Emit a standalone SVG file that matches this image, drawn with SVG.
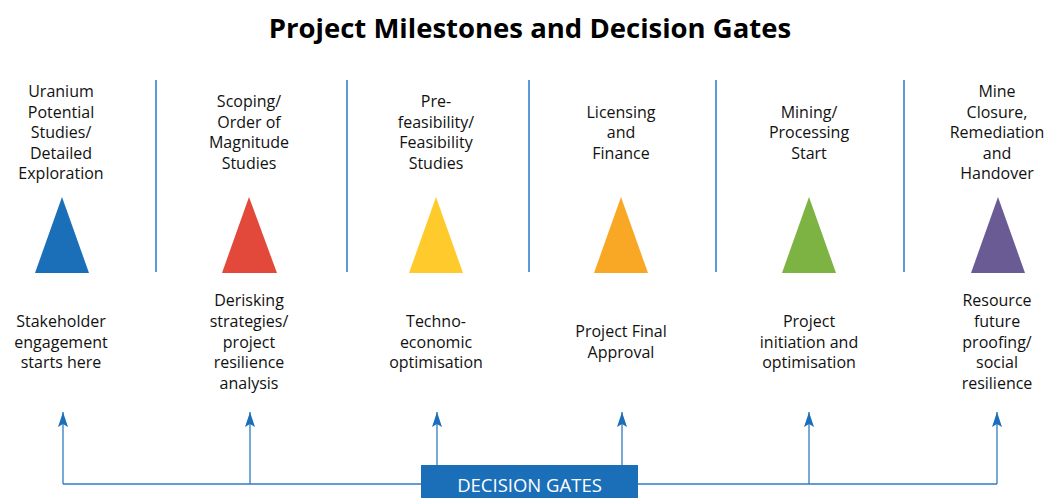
<svg xmlns="http://www.w3.org/2000/svg" width="1048" height="498" viewBox="0 0 1048 498">
<style>
.t{font-family:"Open Sans","Liberation Sans",sans-serif;font-size:16px;fill:#111;text-anchor:middle}
.title{font-family:"Open Sans","Liberation Sans",sans-serif;font-size:27.5px;font-weight:bold;fill:#000;text-anchor:middle}
.sep{stroke:#5b9bd5;stroke-width:2}
.con{stroke:#2f7bc2;stroke-width:1.3;fill:none}
.gate{font-family:"Open Sans","Liberation Sans",sans-serif;font-size:18.5px;fill:#fff;text-anchor:middle}
</style>
<defs>
<marker id="ah" viewBox="0 0 15 10" refX="15" refY="5" markerWidth="15" markerHeight="10" markerUnits="userSpaceOnUse" orient="auto">
<path d="M15 5 L0 0 L3 5 L0 10 Z" fill="#1a6fb8"/>
</marker>
</defs>
<rect width="1048" height="498" fill="#fff"/>
<text class="title" x="530" y="38">Project Milestones and Decision Gates</text>
<g id="separators">
<line class="sep" x1="156" y1="80" x2="156" y2="272"/>
<line class="sep" x1="347" y1="80" x2="347" y2="272"/>
<line class="sep" x1="529" y1="80" x2="529" y2="272"/>
<line class="sep" x1="716" y1="80" x2="716" y2="272"/>
<line class="sep" x1="904" y1="80" x2="904" y2="272"/>
</g>
<g id="m1">
<text class="t" x="61" y="97">Uranium</text>
<text class="t" x="61" y="117.5">Potential</text>
<text class="t" x="61" y="138">Studies/</text>
<text class="t" x="61" y="158.5">Detailed</text>
<text class="t" x="61" y="179">Exploration</text>
<polygon points="62,197 89,273 35,273" fill="#1a6fb8"/>
<text class="t" x="61" y="327">Stakeholder</text>
<text class="t" x="61" y="347.5">engagement</text>
<text class="t" x="61" y="368">starts here</text>
</g>
<g id="m2">
<text class="t" x="249" y="107">Scoping/</text>
<text class="t" x="249" y="127.5">Order of</text>
<text class="t" x="249" y="148">Magnitude</text>
<text class="t" x="249" y="168.5">Studies</text>
<polygon points="249,197 277,273 222,273" fill="#e2493a"/>
<text class="t" x="249" y="306">Derisking</text>
<text class="t" x="249" y="327">strategies/</text>
<text class="t" x="249" y="347.5">project</text>
<text class="t" x="249" y="368">resilience</text>
<text class="t" x="249" y="388.5">analysis</text>
</g>
<g id="m3">
<text class="t" x="436" y="107">Pre-</text>
<text class="t" x="436" y="127.5">feasibility/</text>
<text class="t" x="436" y="148">Feasibility</text>
<text class="t" x="436" y="168.5">Studies</text>
<polygon points="436,197 463,273 409,273" fill="#ffca2c"/>
<text class="t" x="436" y="327">Techno-</text>
<text class="t" x="436" y="347.5">economic</text>
<text class="t" x="436" y="368">optimisation</text>
</g>
<g id="m4">
<text class="t" x="621" y="117.5">Licensing</text>
<text class="t" x="621" y="138">and</text>
<text class="t" x="621" y="158.5">Finance</text>
<polygon points="621,197 648,273 594,273" fill="#f9a825"/>
<text class="t" x="621" y="337">Project Final</text>
<text class="t" x="621" y="358">Approval</text>
</g>
<g id="m5">
<text class="t" x="809" y="117.5">Mining/</text>
<text class="t" x="809" y="138">Processing</text>
<text class="t" x="809" y="158.5">Start</text>
<polygon points="809,197 836,273 782,273" fill="#7cb342"/>
<text class="t" x="809" y="327">Project</text>
<text class="t" x="809" y="347.5">initiation and</text>
<text class="t" x="809" y="368">optimisation</text>
</g>
<g id="m6">
<text class="t" x="997" y="97">Mine</text>
<text class="t" x="997" y="117.5">Closure,</text>
<text class="t" x="997" y="138">Remediation</text>
<text class="t" x="997" y="158.5">and</text>
<text class="t" x="997" y="179">Handover</text>
<polygon points="998,197 1025,273 971,273" fill="#6b5b95"/>
<text class="t" x="997" y="306">Resource</text>
<text class="t" x="997" y="327">future</text>
<text class="t" x="997" y="347.5">proofing/</text>
<text class="t" x="997" y="368">social</text>
<text class="t" x="997" y="388.5">resilience</text>
</g>
<g id="connectors">
<polyline class="con" points="63,484 997,484"/>
<line class="con" x1="63" y1="484" x2="63" y2="412" marker-end="url(#ah)"/>
<line class="con" x1="250" y1="484" x2="250" y2="412" marker-end="url(#ah)"/>
<line class="con" x1="437" y1="465" x2="437" y2="412" marker-end="url(#ah)"/>
<line class="con" x1="622" y1="465" x2="622" y2="412" marker-end="url(#ah)"/>
<line class="con" x1="809" y1="484" x2="809" y2="412" marker-end="url(#ah)"/>
<line class="con" x1="997" y1="484" x2="997" y2="412" marker-end="url(#ah)"/>
</g>
<g id="gates">
<rect x="421" y="465" width="217" height="33" fill="#1a6fb8"/>
<text class="gate" x="529.5" y="492">DECISION GATES</text>
</g>
</svg>
